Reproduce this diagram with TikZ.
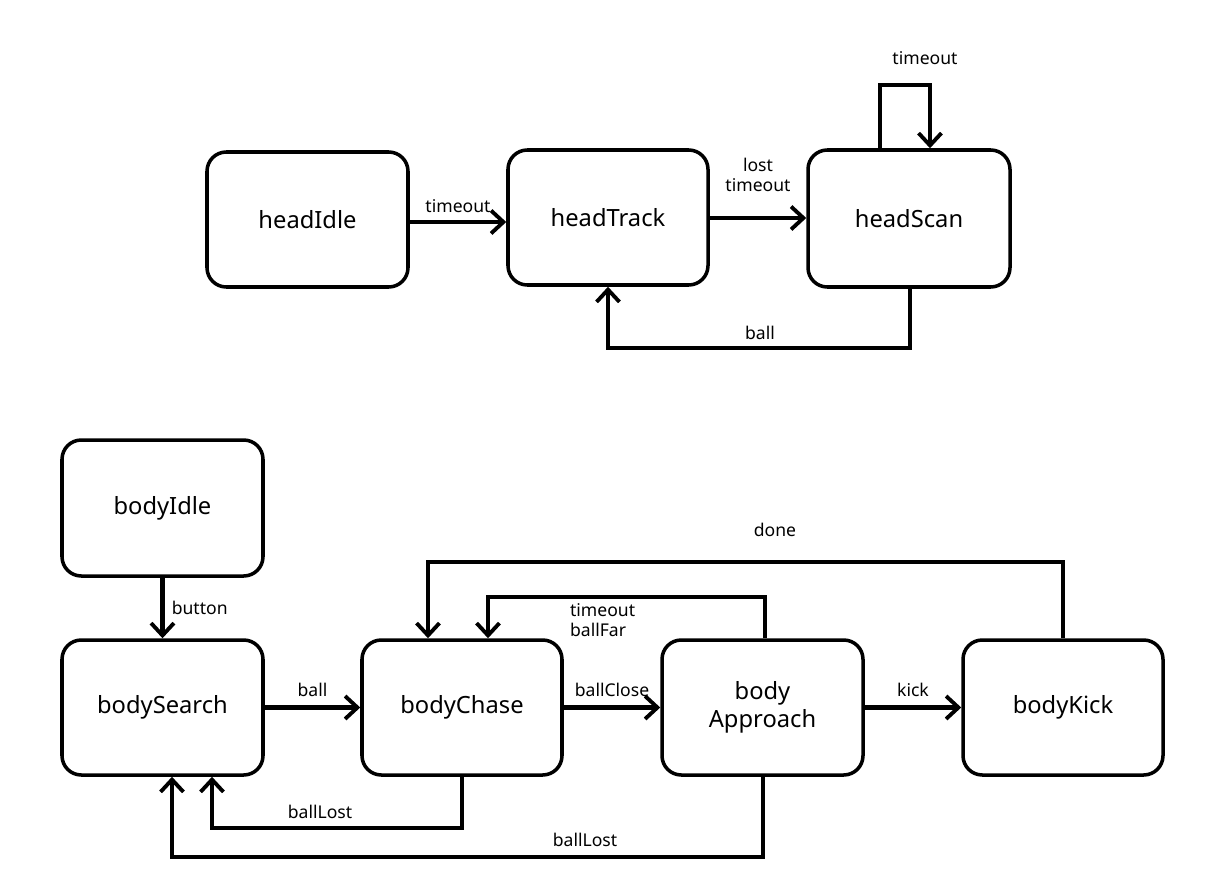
\documentclass[tikz,border=0pt]{standalone}
\usepackage{fontspec}
\setmainfont{Noto Sans}
\usetikzlibrary{arrows.meta}
\begin{document}
\begin{tikzpicture}[x=0.02cm,y=-0.02cm,
  st/.style={draw,line width=2pt,rounded corners=11pt,inner sep=0pt,font=\fontsize{13.5}{16}\selectfont,align=center},
  ar/.style={line width=2.6pt,-{Straight Barb[length=7pt,width=13pt,line width=2.2pt]}},
  lb/.style={font=\fontsize{10}{11.5}\selectfont,inner sep=1pt}]
\useasboundingbox (0,0) rectangle (1214,893);
\node[st,minimum width=201*0.02cm,minimum height=135*0.02cm] (hi) at (307.5,219.5) {headIdle};
\node[st,minimum width=200*0.02cm,minimum height=135*0.02cm] (ht) at (608,217.5) {headTrack};
\node[st,minimum width=202*0.02cm,minimum height=137*0.02cm] (hs) at (909,218.5) {headScan};
\node[st,minimum width=201*0.02cm,minimum height=136*0.02cm] (bi) at (162.5,508) {bodyIdle};
\node[st,minimum width=201*0.02cm,minimum height=135*0.02cm] (bs) at (162.5,707.5) {bodySearch};
\node[st,minimum width=200*0.02cm,minimum height=135*0.02cm] (bc) at (462,707.5) {bodyChase};
\node[st,minimum width=201*0.02cm,minimum height=135*0.02cm] (ba) at (762.5,707.5) {body\\Approach};
\node[st,minimum width=200*0.02cm,minimum height=135*0.02cm] (bk) at (1063,707.5) {bodyKick};
\coordinate (c1) at (880,85); \coordinate (c2) at (930,85);
\draw[ar] (hi.east |- 0,222) -- (ht.west |- 0,222) node[lb,pos=0.5,above=3pt]{timeout};
\draw[ar] (ht.east |- 0,218) -- (hs.west |- 0,218);
\node[lb,align=center] (l1) at (758,175) {lost\\timeout};
\draw[ar] (hs.north -| c1) -- (c1) -- (c2) -- (hs.north -| c2);
\node[lb] (l2) at (925,58) {timeout};
\draw[ar] (hs.south -| 910,0) -- (910,348) -- (608,348) -- (ht.south);
\node[lb] (l3) at (760,333) {ball};
\draw[ar] (bi.south) -- (bs.north) node[lb,pos=0.5,right=3pt]{button};
\draw[ar] (bs.east) -- (bc.west) node[lb,pos=0.5,above=4pt]{ball};
\draw[ar] (bc.east) -- (ba.west) node[lb,pos=0.5,above=4pt]{ballClose};
\draw[ar] (ba.east) -- (bk.west) node[lb,pos=0.5,above=4pt]{kick};
\draw[ar] (bk.north) -- (1063,562) -- (428,562) -- (bc.north -| 428,0);
\node[lb] (l4) at (775,530) {done};
\draw[ar] (ba.north -| 765,0) -- (765,597) -- (488,597) -- (bc.north -| 488,0);
\node[lb,align=left,anchor=west] (l5) at (568,620) {timeout\\ballFar};
\draw[ar] (bc.south) -- (462,828) -- (212,828) -- (bs.south -| 212,0);
\node[lb] (l6) at (320,812) {ballLost};
\draw[ar] (ba.south -| 763,0) -- (763,857) -- (172,857) -- (bs.south -| 172,0);
\node[lb] (l7) at (585,840) {ballLost};
\end{tikzpicture}
\end{document}
